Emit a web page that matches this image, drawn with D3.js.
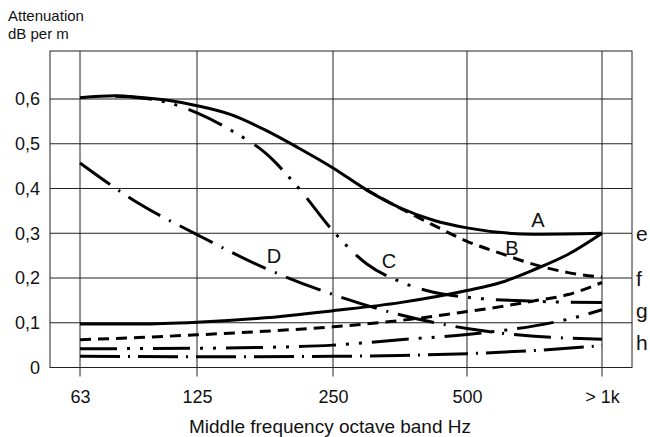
<!DOCTYPE html>
<html>
<head>
<meta charset="utf-8">
<script src="https://cdn.jsdelivr.net/npm/d3@7"></script>
<style>
  body { margin: 0; background: #fff; }
  text { font-family: "Liberation Sans", Arial, Helvetica, sans-serif; fill: #111; }
</style>
</head>
<body>
<div id="chart"></div>
<script>
// octave bands (x axis categories) and y ticks
var bands = ["63", "125", "250", "500", "> 1k"];
var yTicks = [0, 0.1, 0.2, 0.3, 0.4, 0.5, 0.6];

// curves as [band index, dB per m]
var curveA = [[0, 0.603], [0.3, 0.607], [0.5, 0.604], [0.75, 0.597], [1, 0.585], [1.25, 0.565], [1.5, 0.531], [1.75, 0.49], [2, 0.446], [2.25, 0.397], [2.5, 0.357], [2.75, 0.329], [3, 0.312], [3.5, 0.298], [4, 0.300]];
var curveB = [[2.25, 0.397], [2.5, 0.356], [2.75, 0.318], [3, 0.282], [3.25, 0.255], [3.5, 0.23], [3.75, 0.212], [4, 0.202]];
var curveC = [[0.3, 0.606], [0.5, 0.603], [0.75, 0.592], [1, 0.569], [1.25, 0.53], [1.5, 0.48], [1.75, 0.40], [2, 0.305], [2.25, 0.232], [2.5, 0.192], [2.75, 0.168], [3, 0.157], [3.5, 0.148], [4, 0.145]];
var curveD = [[0, 0.457], [0.5, 0.367], [1, 0.297], [1.5, 0.222], [2, 0.163], [2.5, 0.118], [3, 0.087], [3.5, 0.07], [4, 0.063]];
var curveE = [[0, 0.097], [0.5, 0.097], [1, 0.101], [1.5, 0.111], [2, 0.127], [2.5, 0.145], [3, 0.172], [3.25, 0.19], [3.5, 0.219], [3.75, 0.253], [4, 0.30]];
var curveF = [[0, 0.062], [0.5, 0.067], [1, 0.073], [1.5, 0.081], [2, 0.091], [2.5, 0.105], [3, 0.125], [3.25, 0.136], [3.5, 0.149], [3.75, 0.163], [4, 0.19]];
var curveG = [[0, 0.042], [1, 0.043], [1.5, 0.045], [2, 0.05], [2.5, 0.062], [3, 0.074], [3.5, 0.093], [3.75, 0.108], [4, 0.129]];
var curveH = [[0, 0.025], [1, 0.024], [2, 0.025], [2.5, 0.027], [3, 0.031], [3.5, 0.038], [4, 0.049]];

var svgWidth = 650;
var svgHeight = 437;

var svg = d3.select("#chart")
    .append("svg")
    .attr("width", svgWidth)
    .attr("height", svgHeight);

// plot frame
var frame = { left: 50, right: 632, top: 51, bottom: 367.5 };

// band positions are not evenly spaced in the original drawing
var x = d3.scaleLinear()
    .domain([0, 1, 2, 3, 4])
    .range([80, 197, 333, 467, 602]);

var y = d3.scaleLinear()
    .domain([0, 0.6])
    .range([frame.bottom, 99]);

var grid = svg.append("g")
    .attr("stroke", "#222")
    .attr("stroke-width", 1);

// horizontal grid
grid.selectAll(".hgrid")
    .data(yTicks.slice(1))
    .enter()
    .append("line")
    .attr("x1", frame.left)
    .attr("x2", frame.right)
    .attr("y1", d => y(d))
    .attr("y2", d => y(d));

// vertical grid with a short tick below the frame
grid.selectAll(".vgrid")
    .data(d3.range(bands.length))
    .enter()
    .append("line")
    .attr("x1", d => x(d))
    .attr("x2", d => x(d))
    .attr("y1", frame.top)
    .attr("y2", frame.bottom + 9);

grid.append("rect")
    .attr("x", frame.left)
    .attr("y", frame.top)
    .attr("width", frame.right - frame.left)
    .attr("height", frame.bottom - frame.top)
    .attr("fill", "none");

// axes (labels only)
var leftAxis = d3.axisLeft(y)
    .tickValues(yTicks)
    .tickSize(0)
    .tickPadding(10)
    .tickFormat(d => d === 0 ? "0" : d3.format(".1f")(d).replace(".", ","));

var bottomAxis = d3.axisBottom(x)
    .tickValues(d3.range(bands.length))
    .tickSize(0)
    .tickPadding(23)
    .tickFormat(i => bands[i]);

var yAxis = svg.append("g")
    .attr("transform", `translate(${frame.left}, 0)`)
    .call(leftAxis);

var xAxis = svg.append("g")
    .attr("transform", `translate(0, ${frame.bottom})`)
    .call(bottomAxis);

[yAxis, xAxis].forEach(function (a) {
    a.select(".domain").remove();
    a.selectAll("text")
        .attr("fill", "#111")
        .style("font-size", "18px")
        .style("font-family", '"Liberation Sans", Arial, Helvetica, sans-serif');
});

// curves
var line = d3.line()
    .x(d => x(d[0]))
    .y(d => y(d[1]))
    .curve(d3.curveMonotoneX);

var curves = [
    { data: curveH, dash: "40,8,2,8" },
    { data: curveG, dash: "37,10,3,10,3,10" },
    { data: curveF, dash: "11,7" },
    { data: curveD, dash: "37,10,2,10" },
    { data: curveC, dash: "37,10,3,10,3,12" },
    { data: curveB, dash: "11,7" },
    { data: curveE, dash: null },
    { data: curveA, dash: null }
];

svg.append("g")
    .selectAll("path")
    .data(curves)
    .enter()
    .append("path")
    .attr("d", d => line(d.data))
    .attr("fill", "none")
    .attr("stroke", "#000")
    .attr("stroke-width", 3)
    .attr("stroke-dasharray", d => d.dash);

// curve labels
var curveLabels = [
    { t: "A", x: 538, y: 227 },
    { t: "B", x: 512, y: 255 },
    { t: "C", x: 389, y: 268 },
    { t: "D", x: 274, y: 263 }
];

svg.selectAll(".clabel")
    .data(curveLabels)
    .enter()
    .append("text")
    .attr("x", d => d.x)
    .attr("y", d => d.y)
    .attr("text-anchor", "middle")
    .style("font-size", "20px")
    .text(d => d.t);

var endLabels = [
    { t: "e", y: 241 },
    { t: "f", y: 286 },
    { t: "g", y: 318 },
    { t: "h", y: 350 }
];

svg.selectAll(".elabel")
    .data(endLabels)
    .enter()
    .append("text")
    .attr("x", 636)
    .attr("y", d => d.y)
    .style("font-size", "21px")
    .text(d => d.t);

// axis titles
svg.append("text")
    .attr("x", 8)
    .attr("y", 21)
    .style("font-size", "15px")
    .text("Attenuation");

svg.append("text")
    .attr("x", 8)
    .attr("y", 39)
    .style("font-size", "15px")
    .text("dB per m");

svg.append("text")
    .attr("x", 330)
    .attr("y", 433)
    .attr("text-anchor", "middle")
    .style("font-size", "19px")
    .text("Middle frequency octave band Hz");
</script>
</body>
</html>
